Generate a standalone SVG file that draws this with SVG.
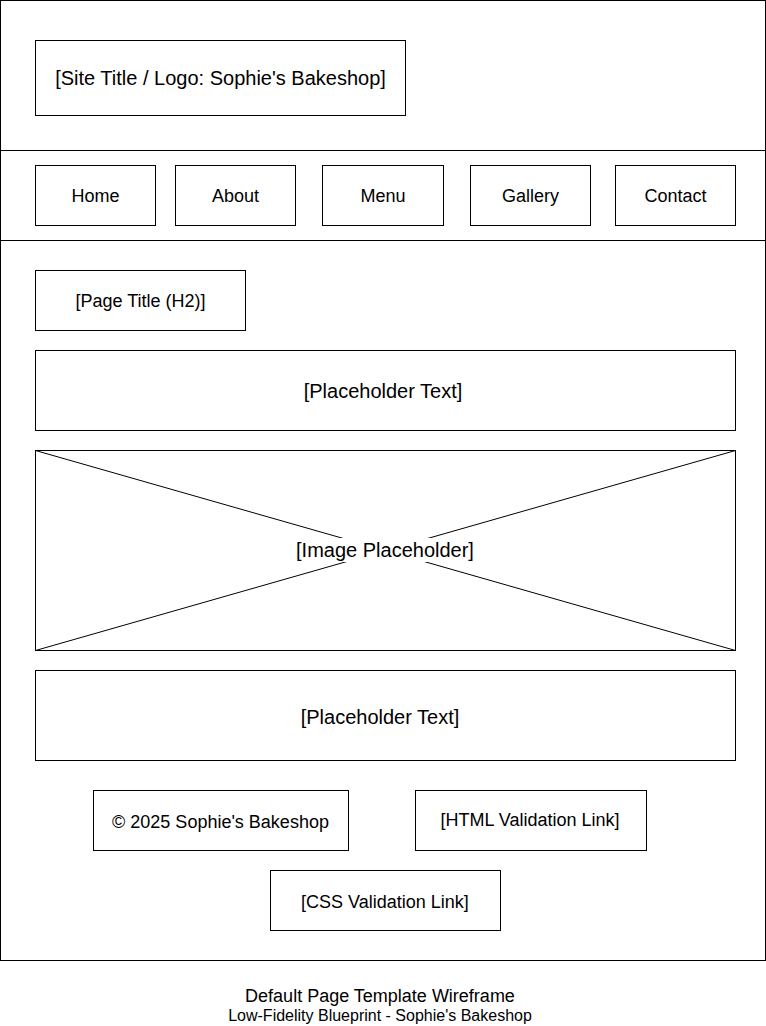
<svg xmlns="http://www.w3.org/2000/svg" width="766" height="1026" viewBox="0 0 766 1026">
<style>
.box{fill:#fff;stroke:#000;stroke-width:1}
.ln{stroke:#000;stroke-width:1;fill:none}
text{font-family:"Liberation Sans",Arial,Helvetica,sans-serif;fill:#000;text-anchor:middle}
.t20{font-size:20px}
.t18{font-size:18px}
.t16{font-size:16px}
</style>
<rect width="766" height="1026" fill="#fff"/>
<g id="page-frame">
<rect class="box" x="0.5" y="0.5" width="765" height="960"/>
<line class="ln" x1="0" y1="150.5" x2="766" y2="150.5"/>
<line class="ln" x1="0" y1="240.5" x2="766" y2="240.5"/>
</g>
<g id="logo">
<rect class="box" x="35.5" y="40.5" width="370" height="75"/>
<text class="t20" x="220.5" y="85">[Site Title / Logo: Sophie's Bakeshop]</text>
</g>
<g id="nav-home"><rect class="box" x="35.5" y="165.5" width="120" height="60"/><text class="t18" x="95.5" y="202">Home</text></g>
<g id="nav-about"><rect class="box" x="175.5" y="165.5" width="120" height="60"/><text class="t18" x="235.5" y="202">About</text></g>
<g id="nav-menu"><rect class="box" x="322.5" y="165.5" width="121" height="60"/><text class="t18" x="383" y="202">Menu</text></g>
<g id="nav-gallery"><rect class="box" x="470.5" y="165.5" width="120" height="60"/><text class="t18" x="530.5" y="202">Gallery</text></g>
<g id="nav-contact"><rect class="box" x="615.5" y="165.5" width="120" height="60"/><text class="t18" x="675.5" y="202">Contact</text></g>
<g id="page-title"><rect class="box" x="35.5" y="270.5" width="210" height="60"/><text class="t18" x="140.5" y="307">[Page Title (H2)]</text></g>
<g id="placeholder-text-1"><rect class="box" x="35.5" y="350.5" width="700" height="80"/><text class="t20" x="383" y="398">[Placeholder Text]</text></g>
<g id="image-placeholder">
<rect class="box" x="35.5" y="450.5" width="700" height="200"/>
<line class="ln" x1="35.5" y1="450.5" x2="735.5" y2="650.5"/>
<line class="ln" x1="735.5" y1="450.5" x2="35.5" y2="650.5"/>
<rect x="296" y="538" width="178" height="24" fill="#fff"/>
<text class="t20" x="385" y="557">[Image Placeholder]</text>
</g>
<g id="placeholder-text-2"><rect class="box" x="35.5" y="670.5" width="700" height="90"/><text class="t20" x="380" y="724">[Placeholder Text]</text></g>
<g id="copyright"><rect class="box" x="93.5" y="790.5" width="255" height="60"/><text class="t18" x="220.5" y="828">© 2025 Sophie's Bakeshop</text></g>
<g id="html-link"><rect class="box" x="415.5" y="790.5" width="231" height="60"/><text class="t18" x="530" y="826">[HTML Validation Link]</text></g>
<g id="css-link"><rect class="box" x="270.5" y="870.5" width="230" height="60"/><text class="t18" x="385" y="908">[CSS Validation Link]</text></g>
<g id="caption">
<text class="t18" x="380" y="1002">Default Page Template Wireframe</text>
<text class="t16" x="380" y="1021">Low-Fidelity Blueprint - Sophie's Bakeshop</text>
</g>
<g id="connectors"></g>
</svg>
